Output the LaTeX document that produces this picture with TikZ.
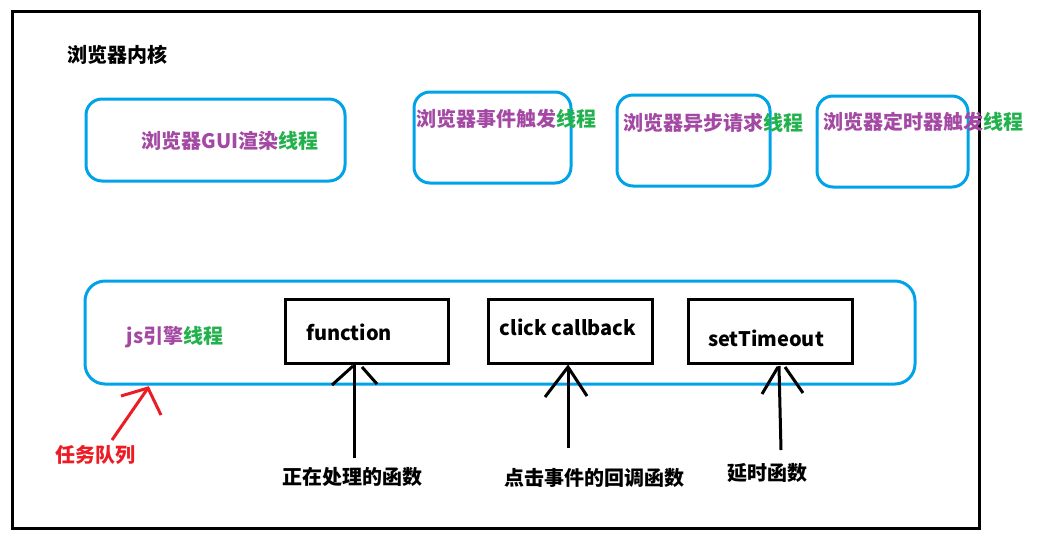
\documentclass[tikz,border=0pt]{standalone}
\usepackage{fontspec}
\setmainfont{Noto Sans CJK SC}
\begin{document}
\begin{tikzpicture}[x=1pt,y=-1pt,
  every node/.style={inner sep=0pt,font=\fontsize{20}{23}\selectfont\bfseries},
  bluebox/.style={draw=cblue,line width=3pt,rounded corners=16pt},
  blackbox/.style={draw=black,line width=3pt},
  handline/.style={line width=3pt},
  redline/.style={draw=cred,line width=3pt}]
\definecolor{cblue}{HTML}{00A2E8}
\definecolor{cpurple}{HTML}{A349A4}
\definecolor{cgreen}{HTML}{22B14C}
\definecolor{cred}{HTML}{ED1C24}
\useasboundingbox (0,0) rectangle (1046,542);
\node[draw=black,line width=3pt,minimum width=967pt,minimum height=517pt,anchor=north west] (outer) at (11,10) {};
\node (title) at (117.5,55) {浏览器内核};
% thread boxes
\draw[bluebox] (86,99) rectangle (345,181);
\node (gui) at (230,141) {\color{cpurple}浏览器GUI渲染\color{cgreen}线程};
\draw[bluebox] (414,92) rectangle (571,183);
\node (evt) at (506,119) {\color{cpurple}浏览器事件触发\color{cgreen}线程};
\draw[bluebox] (617,95) rectangle (770,186);
\node (async) at (713,123) {\color{cpurple}浏览器异步请求\color{cgreen}线程};
\draw[bluebox] (817,96) rectangle (968,187);
\node (timer) at (923,122) {\color{cpurple}浏览器定时器触发\color{cgreen}线程};
% js engine
\draw[bluebox,rounded corners=20pt] (85,281) rectangle (915,384);
\node (js) at (175,337) {\color{cpurple}js引擎\color{cgreen}线程};
\node[blackbox,minimum width=163pt,minimum height=64pt] (fbox) at (366.5,331) {};
\node (ftext) at (349,332) {function};
\node[blackbox,minimum width=164pt,minimum height=64pt] (cbox) at (570,331) {};
\node (ctext) at (568,327) {click callback};
\node[blackbox,minimum width=164pt,minimum height=64pt] (sbox) at (770,331) {};
\node (stext) at (766,338) {setTimeout};
% labels
\node (l1) at (352,477) {正在处理的函数};
\node (l2) at (594,478) {点击事件的回调函数};
\node (l3) at (767,473) {延时函数};
\node[text=cred] (l4) at (95,455) {任务队列};
% arrows
\coordinate (a1s) at (354,458); \coordinate (a1e) at (354,365);
\draw[handline] (a1s) -- (a1e);
\draw[handline] (332,385) -- (353,366);
\draw[handline] (362,367) -- (377,384);
\coordinate (a2s) at (568,448); \coordinate (a2e) at (568,367);
\draw[handline] (a2s) -- (a2e);
\draw[handline] (545,397) -- (568,367) -- (587,396);
\coordinate (a3s) at (781,450); \coordinate (a3e) at (779,366);
\draw[handline] (a3s) -- (a3e);
\draw[handline] (762,394) -- (778,367);
\draw[handline] (785,367) -- (803,393);
\coordinate (a4s) at (112,440); \coordinate (a4e) at (148,388);
\draw[redline] (a4s) -- (a4e);
\draw[redline] (121,396) -- (148,388) -- (161,415);
\end{tikzpicture}
\end{document}
